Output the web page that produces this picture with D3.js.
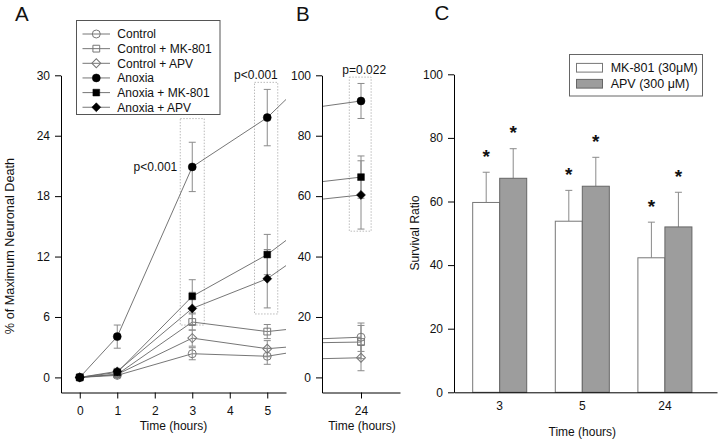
<!DOCTYPE html>
<html><head><meta charset="utf-8">
<script src="https://cdn.jsdelivr.net/npm/d3@7"></script>
<style>
body{margin:0;background:#fff}
text{font-family:"Liberation Sans",Arial,Helvetica,sans-serif;fill:#111}
</style>
</head><body>
<svg id="chart" width="720" height="441"></svg>
<script>
// ---------- DATA ----------
const seriesNames = ["Control","Control + MK-801","Control + APV","Anoxia","Anoxia + MK-801","Anoxia + APV"];
const timesA = [0, 1, 3, 5];
const tickLabelsA_x = [0, 1, 2, 3, 4, 5];
const tickLabelsA_y = [0, 6, 12, 18, 24, 30];
const tickLabelsB_y = [0, 20, 40, 60, 80, 100];
const tickLabelsB_x = [24];
// panel A values (% of maximum neuronal death) at 0,1,3,5 h
const controlA      = [0, 0.2, 2.35, 2.1];
const controlMKA    = [0, 0.3, 5.5, 4.55];
const controlAPVA   = [0, 0.3, 3.9, 2.85];
const anoxiaA       = [0, 4.05, 20.9, 25.8];
const anoxiaMKA     = [0, 0.5, 8.05, 12.2];
const anoxiaAPVA    = [0, 0.6, 6.85, 9.8];
const controlErrA    = [0, 0.2, 0.6, 0.8];
const controlMKErrA  = [0, 0.2, 0.8, 0.7];
const controlAPVErrA = [0, 0.2, 0.8, 0.8];
const anoxiaErrA     = [0, 1.15, 2.45, 2.8];
const anoxiaMKErrA   = [0, 0.3, 1.65, 2.0];
const anoxiaAPVErrA  = [0, 0.3, 1.6, 2.9];
// broken-axis continuation: value where each line leaves panel A (toward 24 h)
const edgeA = [2.4, 4.75, 3.0, 27.6, 13.6, 11.1];
// panel B values at 24 h
const values24 = [13.3, 11.7, 6.5, 91.5, 66.3, 60.4];
const errors24 = [4.7, 5.5, 4.3, 5.8, 7.0, 11.3];
// value where each line enters panel B (from 5 h)
const edgeB = [12.8, 11.5, 6.2, 89.7, 64.8, 59.0];
// significance annotations (dotted boxes in data units)
const boxesA = [{t0: 2.68, t1: 3.32, v0: 5.2, v1: 25.7, label: "p<0.001"},
                {t0: 4.66, t1: 5.28, v0: 6.3, v1: 29.3, label: "p<0.001"}];
const boxesB = [{t0: 23.7, t1: 24.26, v0: 48.4, v1: 99.4, label: "p=0.022"}];
// panel C
const barCats = ["3", "5", "24"];
const barKeys = ["MK-801 (30μM)", "APV (300 μM)"];
const mkVals = [59.7, 53.8, 42.3];
const mkErr  = [9.5, 9.7, 11.2];
const apvVals = [67.3, 64.8, 52.0];
const apvErr  = [9.3, 9.1, 10.9];
const tickLabelsC_y = [0, 20, 40, 60, 80, 100];

// ---------- SETUP ----------
const svg = d3.select("#chart");
const FS = 12;
const seriesA = [controlA, controlMKA, controlAPVA, anoxiaA, anoxiaMKA, anoxiaAPVA];
const seriesErrA = [controlErrA, controlMKErrA, controlAPVErrA, anoxiaErrA, anoxiaMKErrA, anoxiaAPVErrA];
const shapes = ["circle","square","diamond","circle","square","diamond"];
const filled = [false,false,false,true,true,true];
const lineCol = "#666", errCol = "#8a8a8a", openCol = "#777";

function symbolPath(shape) {
  if (shape === "circle") return d3.symbol(d3.symbolCircle, 50)();
  if (shape === "square") return d3.symbol(d3.symbolSquare, 46)();
  return d3.symbol(d3.symbolSquare, 40)();
}
function drawMarker(g, x, y, i) {
  const p = g.append("path").attr("d", symbolPath(shapes[i]))
    .attr("transform", `translate(${x},${y})` + (shapes[i] === "diamond" ? " rotate(45)" : ""));
  if (filled[i]) p.attr("fill", "#000").attr("stroke", "#000").attr("stroke-width", 0.5);
  else p.attr("fill", "none").attr("stroke", openCol).attr("stroke-width", 1);
}
function drawErr(g, x, y0, y1, cap) {
  g.append("line").attr("x1", x).attr("x2", x).attr("y1", y0).attr("y2", y1)
    .attr("stroke", errCol).attr("stroke-width", 1);
  [y0, y1].forEach(yy => g.append("line").attr("x1", x - cap).attr("x2", x + cap)
    .attr("y1", yy).attr("y2", yy).attr("stroke", errCol).attr("stroke-width", 1));
}
function styleAxis(g) {
  g.selectAll("path.domain").attr("stroke", "#000").attr("stroke-width", 1);
  g.selectAll(".tick line").attr("stroke", "#000");
  g.selectAll("text").attr("font-size", FS).attr("fill", "#111")
    .attr("font-family", '"Liberation Sans",Arial,sans-serif');
}

const yTop = 75.3, yBot = 392.5;

// ---------- PANEL A ----------
const xA = d3.scaleLinear().domain([-0.5, 5.5]).range([61, 286]);
const yA = d3.scaleLinear().domain([-1.5, 30]).range([yBot, yTop]);
const gA = svg.append("g");

// dotted boxes
boxesA.forEach(b => {
  gA.append("rect").attr("x", xA(b.t0)).attr("y", yA(b.v1))
    .attr("width", xA(b.t1) - xA(b.t0)).attr("height", yA(b.v0) - yA(b.v1))
    .attr("fill", "none").attr("stroke", "#aaa").attr("stroke-width", 0.8).attr("stroke-dasharray", "1.5,1.5");
});
// p labels
gA.append("text").attr("x", xA(3) - 15).attr("y", yA(anoxiaA[2])).attr("dy", "0.35em")
  .attr("text-anchor", "end").attr("font-size", 12).text(boxesA[0].label);
gA.append("text").attr("x", xA(boxesA[1].t1)).attr("y", yA(boxesA[1].v1) - 3)
  .attr("text-anchor", "end").attr("font-size", 12).text(boxesA[1].label);

// lines
const lineA = d3.line().x(d => xA(d[0])).y(d => yA(d[1]));
seriesA.forEach((s, i) => {
  const pts = timesA.map((t, j) => [t, s[j]]).concat([[5.5, edgeA[i]]]);
  gA.append("path").attr("d", lineA(pts)).attr("fill", "none").attr("stroke", lineCol).attr("stroke-width", 0.9);
});
// error bars
seriesA.forEach((s, i) => {
  timesA.forEach((t, j) => {
    const e = seriesErrA[i][j];
    if (e > 0) drawErr(gA, xA(t), yA(s[j] - e), yA(s[j] + e), 3.5);
  });
});
// markers
seriesA.forEach((s, i) => timesA.forEach((t, j) => drawMarker(gA, xA(t), yA(s[j]), i)));

// axes
const axAx = gA.append("g").attr("transform", `translate(0,${yBot})`)
  .call(d3.axisBottom(xA).tickValues(tickLabelsA_x).tickSize(6).tickSizeOuter(0).tickPadding(8).tickFormat(d3.format("d")));
styleAxis(axAx);
const axAy = gA.append("g").attr("transform", `translate(61,0)`)
  .call(d3.axisLeft(yA).tickValues(tickLabelsA_y).tickSize(6).tickSizeOuter(0).tickPadding(5));
styleAxis(axAy);
gA.append("text").attr("x", 173.5).attr("y", 430).attr("text-anchor", "middle").attr("font-size", FS).text("Time (hours)");
gA.append("text").attr("transform", "translate(14,246) rotate(-90)").attr("text-anchor", "middle")
  .attr("font-size", 12.7).text("% of Maximum Neuronal Death");

// legend A
const legA = gA.append("g");
legA.append("rect").attr("x", 76.5).attr("y", 20.5).attr("width", 143.5).attr("height", 94)
  .attr("fill", "#fff").attr("stroke", "#555").attr("stroke-width", 1);
seriesNames.forEach((n, i) => {
  const yy = 34 + i * 14.65;
  legA.append("line").attr("x1", 82.5).attr("x2", 110).attr("y1", yy).attr("y2", yy)
    .attr("stroke", lineCol).attr("stroke-width", 0.9);
  drawMarker(legA, 96.3, yy, i);
  legA.append("text").attr("x", 117.3).attr("y", yy).attr("dy", "0.36em").attr("font-size", 12).text(n);
});
svg.append("text").attr("x", 15).attr("y", 21).attr("font-size", 20.5).text("A");

// ---------- PANEL B ----------
const xB = d3.scaleLinear().domain([23, 25]).range([322, 400]);
const yB = d3.scaleLinear().domain([-5, 100]).range([yBot, yTop]);
const gB = svg.append("g");
boxesB.forEach(b => {
  gB.append("rect").attr("x", xB(b.t0)).attr("y", yB(b.v1))
    .attr("width", xB(b.t1) - xB(b.t0)).attr("height", yB(b.v0) - yB(b.v1))
    .attr("fill", "none").attr("stroke", "#aaa").attr("stroke-width", 0.8).attr("stroke-dasharray", "1.5,1.5");
  gB.append("text").attr("x", (xB(b.t0) + xB(b.t1)) / 2 + 4).attr("y", yB(b.v1) - 3)
    .attr("text-anchor", "middle").attr("font-size", 12).text(b.label);
});
values24.forEach((v, i) => {
  gB.append("line").attr("x1", xB(23)).attr("y1", yB(edgeB[i])).attr("x2", xB(24)).attr("y2", yB(v))
    .attr("stroke", lineCol).attr("stroke-width", 0.9);
});
values24.forEach((v, i) => drawErr(gB, xB(24), yB(v - errors24[i]), yB(v + errors24[i]), 3.5));
values24.forEach((v, i) => drawMarker(gB, xB(24), yB(v), i));
const axBx = gB.append("g").attr("transform", `translate(0,${yBot})`)
  .call(d3.axisBottom(xB).tickValues(tickLabelsB_x).tickSize(6).tickSizeOuter(0).tickPadding(8).tickFormat(d3.format("d")));
styleAxis(axBx);
const axBy = gB.append("g").attr("transform", `translate(322,0)`)
  .call(d3.axisLeft(yB).tickValues(tickLabelsB_y).tickSize(6).tickSizeOuter(0).tickPadding(5));
styleAxis(axBy);
gB.append("text").attr("x", 362).attr("y", 430).attr("text-anchor", "middle").attr("font-size", FS).text("Time (hours)");
svg.append("text").attr("x", 296).attr("y", 21).attr("font-size", 20.5).text("B");

// ---------- PANEL C ----------
const xC = d3.scaleBand().domain(barCats).range([454, 717]).paddingInner(0.346).paddingOuter(0.265).align(0.427);
const subC = d3.scaleBand().domain(barKeys).range([0, xC.bandwidth()]);
const yC = d3.scaleLinear().domain([0, 100]).range([392.3, 74.3]);
const gC = svg.append("g");
const barData = barCats.flatMap((c, i) => [
  {cat: c, key: barKeys[0], v: mkVals[i], e: mkErr[i]},
  {cat: c, key: barKeys[1], v: apvVals[i], e: apvErr[i]}
]);
const fills = {[barKeys[0]]: "#fff", [barKeys[1]]: "#9d9d9d"};
const strokes = {[barKeys[0]]: "#777", [barKeys[1]]: "#666"};
barData.forEach(d => {
  const x = xC(d.cat) + subC(d.key), w = subC.bandwidth();
  const cx = x + w / 2;
  gC.append("line").attr("x1", cx).attr("x2", cx).attr("y1", yC(d.v)).attr("y2", yC(d.v + d.e))
    .attr("stroke", errCol).attr("stroke-width", 1);
  gC.append("line").attr("x1", cx - 3.5).attr("x2", cx + 3.5).attr("y1", yC(d.v + d.e)).attr("y2", yC(d.v + d.e))
    .attr("stroke", errCol).attr("stroke-width", 1);
  gC.append("rect").attr("x", x).attr("y", yC(d.v)).attr("width", w).attr("height", yC(0) - yC(d.v))
    .attr("fill", fills[d.key]).attr("stroke", strokes[d.key]).attr("stroke-width", 1);
  gC.append("text").attr("x", cx).attr("y", yC(d.v + d.e) - 21).attr("dy", "0.62em")
    .attr("text-anchor", "middle").attr("font-size", 19).attr("font-weight", "bold").text("*");
});
const axCx = gC.append("g").attr("transform", `translate(0,392.3)`)
  .call(d3.axisBottom(xC).tickSize(0).tickPadding(9));
styleAxis(axCx);
const axCy = gC.append("g").attr("transform", `translate(454,0)`)
  .call(d3.axisLeft(yC).tickValues(tickLabelsC_y).tickSize(6).tickSizeOuter(0).tickPadding(5));
styleAxis(axCy);
gC.append("text").attr("x", xC("5") + xC.bandwidth() / 2).attr("y", 436).attr("text-anchor", "middle").attr("font-size", FS).text("Time (hours)");
gC.append("text").attr("transform", "translate(419,233) rotate(-90)").attr("text-anchor", "middle")
  .attr("font-size", 12.2).text("Survival Ratio");
// legend C
const legC = gC.append("g");
legC.append("rect").attr("x", 569.5).attr("y", 54.5).attr("width", 133).attr("height", 41.5)
  .attr("fill", "#fff").attr("stroke", "#666").attr("stroke-width", 1);
barKeys.forEach((k, i) => {
  const yy = 67.7 + i * 16;
  legC.append("rect").attr("x", 576.5).attr("y", yy - 4.3).attr("width", 26).attr("height", 8.7)
    .attr("fill", fills[k]).attr("stroke", strokes[k]).attr("stroke-width", 1);
  legC.append("text").attr("x", 610.7).attr("y", yy).attr("dy", "0.36em").attr("font-size", 12.5).text(k);
});
svg.append("text").attr("x", 434.5).attr("y", 20).attr("font-size", 20.5).text("C");
</script>
</body></html>
